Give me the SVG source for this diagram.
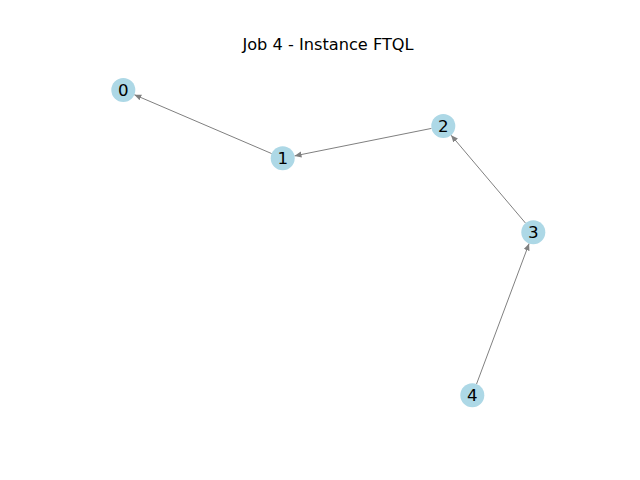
<svg xmlns="http://www.w3.org/2000/svg" width="640" height="480" viewBox="0 0 640 480">
<style>
.node circle { fill: #add8e6; }
.node text { font-family: "DejaVu Sans", sans-serif; font-size: 16.67px; fill: #000; text-anchor: middle; dominant-baseline: central; }
.edge { stroke: #808080; stroke-width: 1; fill: none; marker-end: url(#arrow); }
.title { font-family: "DejaVu Sans", sans-serif; font-size: 16.2px; fill: #000; text-anchor: middle; }
</style>
<defs>
<marker id="arrow" markerUnits="userSpaceOnUse" markerWidth="8" markerHeight="8" refX="7" refY="3" orient="auto">
<path d="M0,0 L7,3 L0,6 z" fill="#808080"/>
</marker>
</defs>
<rect width="640" height="480" fill="#fff"/>
<text class="title" x="328" y="49.5">Job 4 - Instance FTQL</text>
<g id="edges">
<line class="edge" x1="271.7" y1="153.6" x2="134.3" y2="94.7"/>
<line class="edge" x1="431.5" y1="128.4" x2="294.5" y2="155.9"/>
<line class="edge" x1="525.5" y1="223.1" x2="451.1" y2="135.2"/>
<line class="edge" x1="476.5" y1="384.1" x2="529.1" y2="243.5"/>
</g>
<g id="node0" class="node"><circle cx="123.3" cy="90" r="12"/><text x="123.3" y="90">0</text></g>
<g id="node1" class="node"><circle cx="282.7" cy="158.3" r="12"/><text x="282.7" y="158.3">1</text></g>
<g id="node2" class="node"><circle cx="443.3" cy="126" r="12"/><text x="443.3" y="126">2</text></g>
<g id="node3" class="node"><circle cx="533.3" cy="232.3" r="12"/><text x="533.3" y="232.3">3</text></g>
<g id="node4" class="node"><circle cx="472.3" cy="395.3" r="12"/><text x="472.3" y="395.3">4</text></g>
</svg>
